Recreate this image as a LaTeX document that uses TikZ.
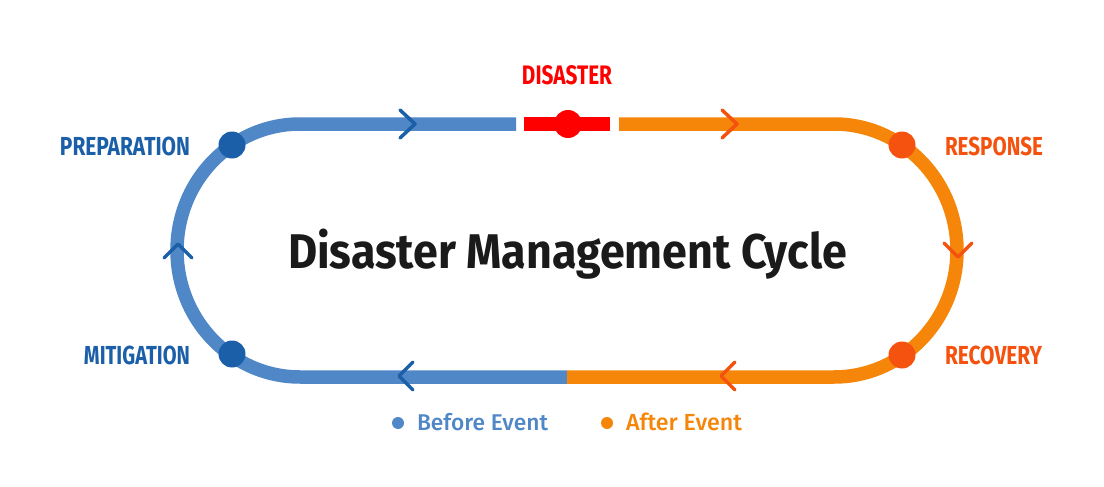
\documentclass[tikz,border=0pt]{standalone}
\usepackage{fontspec}
\setmainfont{Fira Sans}
\newfontfamily\legendfont{Fira Sans Medium}
\definecolor{blueline}{HTML}{4F87C7}
\definecolor{orangeline}{HTML}{F5860A}
\definecolor{redline}{HTML}{FF0000}
\definecolor{darkblue}{HTML}{1B5FA8}
\definecolor{darkorange}{HTML}{F4520E}
\definecolor{titlecol}{HTML}{1A1A1A}
\tikzset{
  track/.style={line width=13.5pt, line cap=butt},
  chev/.style={line width=3.5pt, line cap=round, line join=round},
  dotnode/.style={circle, inner sep=0pt, minimum size=27pt},
  lbl/.style={inner sep=0pt, outer sep=0pt},
  legdot/.style={circle, inner sep=0pt, minimum size=12pt},
}
\begin{document}
\begin{tikzpicture}[x=1pt,y=1pt]
\useasboundingbox[fill=white] (0,0) rectangle (1104,-487);
% coordinates
\coordinate (bTopEnd) at (516,-124);
\coordinate (lt) at (300,-124);
\coordinate (bmid) at (567,-377);
\coordinate (rb) at (834,-377);
\coordinate (oTopEnd) at (619,-124);
\coordinate (rS) at (524,-124);
\coordinate (rE) at (610,-124);
% track
\draw[track, blueline] (bTopEnd) -- (lt) arc[start angle=90, end angle=270, x radius=123, y radius=126.5] -- (bmid);
\draw[track, orangeline] (bmid) -- (rb) arc[start angle=-90, end angle=90, x radius=123, y radius=126.5] -- (oTopEnd);
\draw[line width=14pt, redline] (rS) -- (rE);
\node[dotnode, fill=redline, minimum size=28pt] (disdot) at (568,-124) {};
% chevrons
\draw[chev, darkblue] (400,-110) -- (415,-124) -- (400,-138);
\draw[chev, darkorange] (722,-110) -- (737,-124) -- (722,-138);
\draw[chev, darkblue] (413,-362) -- (399,-376) -- (413,-390);
\draw[chev, darkorange] (735,-362) -- (721,-376) -- (735,-390);
\draw[chev, darkblue] (164,-258) -- (178,-244) -- (192,-258);
\draw[chev, darkorange] (944,-243) -- (958,-257) -- (972,-243);
% dots
\node[dotnode, fill=darkblue] (prepdot) at (232,-145) {};
\node[dotnode, fill=darkblue] (mitdot) at (232,-354) {};
\node[dotnode, fill=darkorange] (respdot) at (902,-145) {};
\node[dotnode, fill=darkorange] (recdot) at (902,-355) {};
% labels
\node[lbl, text=redline, anchor=base] (dis) at (567,-85) {\resizebox{90pt}{19pt}{\bfseries DISASTER}};
\node[lbl, text=darkblue, anchor=base east] (prep) at (190,-155) {\resizebox{130pt}{18.5pt}{\bfseries PREPARATION}};
\node[lbl, text=darkblue, anchor=base east] (mit) at (190,-364) {\resizebox{106pt}{18.5pt}{\bfseries MITIGATION}};
\node[lbl, text=darkorange, anchor=base west] (resp) at (945,-155) {\resizebox{98pt}{18.5pt}{\bfseries RESPONSE}};
\node[lbl, text=darkorange, anchor=base west] (rec) at (945,-364) {\resizebox{97pt}{18.5pt}{\bfseries RECOVERY}};
% title
\node[lbl, text=titlecol, anchor=base west] (title) at (288,-268) {\resizebox{559pt}{39.5pt}{\bfseries Disaster Management Cycle}};
% legend
\node[legdot, fill=blueline] (bdot) at (398,-423) {};
\node[legdot, fill=orangeline] (adot) at (607,-423) {};
\node[lbl, text=blueline, anchor=base west] (btxt) at (417,-430) {\resizebox{131pt}{!}{\legendfont\fontsize{21.5pt}{24pt}\selectfont Before Event}};
\node[lbl, text=orangeline, anchor=base west] (atxt) at (626,-430) {\resizebox{116pt}{!}{\legendfont\fontsize{21.5pt}{24pt}\selectfont After Event}};
\end{tikzpicture}
\end{document}
